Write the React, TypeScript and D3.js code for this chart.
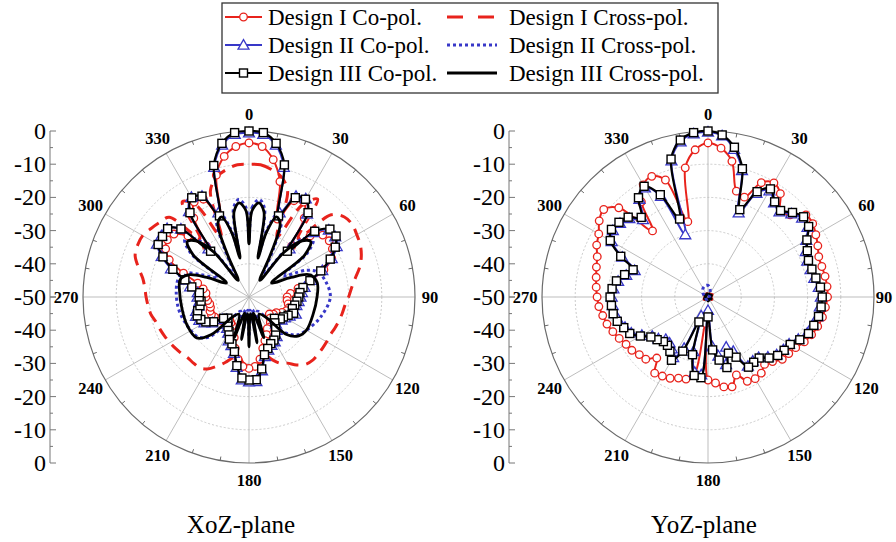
import React from "react";
import * as d3 from "d3";

// ---- angular grids (degrees, clockwise from broadside) ----
const ANGLES_FINE = d3.range(0, 360, 5);
const ANGLES_COARSE = d3.range(0, 360, 15);
// irregular sampling used for the petal-shaped XoZ cross-pol traces
const ANGLES_XOZ_X = [
  0, 2, 6, 10, 13, 15, 19, 23, 27, 33,
  38, 43, 48, 53, 58, 65, 70, 78, 90, 105,
  120, 128, 135, 140, 150, 160, 165, 170, 175, 180,
  185, 190, 195, 200, 210, 220, 225, 232, 245, 260,
  275, 284, 290, 295, 302, 307, 312, 317, 322, 327,
  333, 337, 341, 345, 347, 350, 354, 358,
];
const ANGLE_TICKS = [0, 30, 60, 90, 120, 150, 180, 210, 240, 270, 300, 330];
const DB_TICKS = [0, -10, -20, -30, -40, -50];
const DB_MINOR = [-5, -15, -25, -35, -45];

const LEGEND_CO = ["Design I Co-pol.", "Design II Co-pol.", "Design III Co-pol."];
const LEGEND_X = ["Design I Cross-pol.", "Design II Cross-pol.", "Design III Cross-pol."];
const PLANE_TITLES = ["XoZ-plane", "YoZ-plane"];

// ---- XoZ plane (dB) ----
const XOZ_CO_I = [
  -3.6, -4.5, -8, -14, -25, -18, -17, -21, -30, -24,
  -21, -20.5, -21, -22.5, -26, -31, -35, -37.5, -38.5, -38.5,
  -38, -37.5, -38, -39, -40.5, -41, -42, -41, -40, -39,
  -39, -37.5, -36, -34, -31, -29, -28.5, -29, -31, -34,
  -37, -39, -40, -40.5, -41, -40, -39, -38.5, -38, -37.5,
  -37.5, -38, -38, -37.5, -37, -37, -36, -34, -29, -23.5,
  -21, -20, -20.5, -24, -30, -21, -17, -17.5, -24, -12,
  -7, -4.5,
];
const XOZ_CO_II = [
  -0.5, -0.8, -3.5, -9.5, -23, -16.5, -15.8, -19.5, -31, -22.5,
  -18.6, -18.3, -19.5, -22.5, -26.5, -30.5, -33, -34, -34.5, -35,
  -35.5, -36.5, -35, -36.5, -37.5, -38, -39.5, -38.5, -37, -35.5,
  -34.5, -34, -33, -31.5, -27.5, -24.5, -24.5, -25, -28.5, -32.5,
  -34.5, -35.5, -37.5, -38.5, -39.5, -40.5, -39.5, -36.5, -34.5, -33.5,
  -33, -33.5, -34.5, -35, -34.5, -34.5, -32, -30, -25, -21,
  -18, -17.8, -17.8, -21, -31, -18.5, -15.3, -16.5, -23, -9.5,
  -3.5, -0.8,
];
const XOZ_CO_III = [
  0, -0.3, -3, -8.8, -24, -17, -16, -19, -32, -22,
  -18.2, -18, -20, -23, -27, -31, -33.5, -34.6, -35, -35.5,
  -36, -36.5, -35.7, -37, -38, -38.5, -40, -39, -37.5, -36,
  -35, -34.5, -33.5, -32, -28, -25, -25, -25.5, -29, -33,
  -35, -36, -38, -39, -40, -41, -40, -37, -35, -34,
  -33.4, -34, -35, -35.5, -35, -35, -32.5, -30, -25.6, -21.4,
  -18.4, -18.2, -18, -21, -32, -19, -15.5, -16.5, -24, -9,
  -3, -0.3,
];
const XOZ_X_I = [
  -10, -10, -11, -12.5, -16, -30, -18, -14, -27, -15,
  -12.5, -12, -12.5, -13, -14, -15.5, -17.5, -19, -20, -21,
  -21.5, -22, -22.5, -23, -23, -23, -23, -23, -23.5, -25,
  -27, -28, -30, -32, -30, -29, -29, -30, -32, -31,
  -29, -27, -25, -24, -24, -24, -23.5, -23, -22.5, -22,
  -21.5, -21, -20, -19.5, -19, -18.5, -17.5, -15.5, -13.5, -13,
  -13, -14, -15, -16, -27, -15, -18, -30, -16, -12.5,
  -11, -10,
];
const XOZ_X_II = [
  -32, -23, -20.5, -23, -36, -29, -23.5, -25, -34, -42,
  -32, -26, -24, -28, -38, -31, -28, -26.5, -25.5, -27.5,
  -30, -31.5, -35, -42, -45, -40, -46, -39, -46, -38,
  -46, -40, -46, -40, -45, -40, -33, -30.5, -29.5, -28.5,
  -28, -28, -29, -34, -39, -28, -24, -26, -32, -42,
  -34, -25, -23.5, -29, -36, -23, -20.5, -23,
];
const XOZ_X_III = [
  -34, -24, -21.5, -24, -38, -30, -24.5, -26, -36, -44,
  -33, -27, -25, -29, -42, -36, -30.5, -29, -29.5, -30,
  -30, -31, -34, -42, -44, -37, -45, -36, -45, -35,
  -45, -37, -45, -37, -44, -42, -34, -30, -29.5, -29.5,
  -29, -28.6, -30.5, -36, -42, -29, -25, -27, -33, -44,
  -36, -26, -24.5, -30, -38, -24, -21.5, -24,
];

// ---- YoZ plane (dB) ----
const YOZ_CO_I = [
  -3.6, -5, -8.5, -17, -18, -12, -10.3, -12, -16, -15,
  -11.5, -11.5, -12.5, -13.5, -14.5, -14.5, -14.2, -14, -14, -14.5,
  -15, -15.8, -16.8, -18, -19.5, -20.3, -20.8, -22.5, -23.5, -22,
  -21.6, -22, -25, -22, -22.5, -24, -25, -42, -26, -24.4,
  -24, -23, -22.5, -22, -26, -23.5, -23, -22, -21.5, -20.5,
  -19.5, -18.5, -17.8, -17, -16.6, -16.2, -15.8, -15.2, -14.5, -13,
  -12, -10, -9, -12, -24, -15, -11, -9.9, -12.5, -26.5,
  -10.5, -5.5,
];
const YOZ_CO_II = [
  -0.3, -1.2, -4.8, -10.5, -23, -15.5, -13, -15.3, -16.5, -14.5,
  -13, -13.4, -15.8, -17.5, -18.2, -18, -17.5, -16.5, -16, -16.2,
  -16.5, -17.4, -18.2, -20, -21.8, -22.3, -23, -24.5, -26.3, -26.5,
  -26, -32, -34, -29, -32, -35, -46, -26.5, -27, -33,
  -44, -33, -29, -31, -32, -32, -30.5, -29.5, -27, -24.5,
  -23.4, -22.2, -21.5, -21.2, -21, -21.4, -22.5, -24.5, -26.5, -21.5,
  -16.5, -15, -15.4, -16.5, -19.5, -14, -12, -16.5, -30, -7.5,
  -2.5, -0.6,
];
const YOZ_CO_III = [
  0, -1, -4.2, -10, -22, -15, -12.4, -15, -16, -14,
  -12.4, -13, -15.6, -17, -17.8, -17.6, -17, -16, -15.6, -15.8,
  -16.2, -17, -17.8, -19.5, -21.4, -22, -22.6, -24, -26, -26,
  -25.6, -30, -32, -28, -30.7, -34, -44, -25.6, -26, -32,
  -42, -32, -28, -30, -31, -31, -30, -29, -26.5, -24,
  -23, -21.7, -21, -20.8, -20.5, -21, -22, -24, -26, -21,
  -16, -14.5, -15, -16, -18.7, -13.5, -11.5, -16, -25, -7,
  -2, -0.3,
];
// cross-pol in YoZ stays near the noise floor
const YOZ_X_I = [
  -49, -48.8, -49.2, -49, -48.5, -49, -49.3, -49, -48.6, -49, -49.2, -48.8,
  -48.7, -49, -49.2, -49, -48.6, -49, -49.3, -49, -48.7, -49, -49.2, -48.9,
];
const YOZ_X_II = [
  -46.5, -47.5, -49, -49.5, -49.6, -49.6, -49.5, -49.4, -49.3, -49.4, -49.5, -49.5,
  -49.4, -49.3, -49.2, -49.2, -49.2, -49.2, -49, -48.8, -48.4, -47.8, -47, -46.5,
];
const YOZ_X_III = [
  -49.2, -49, -49.3, -49.1, -48.8, -49, -49.4, -49.2, -48.9, -49.1, -49.3, -49,
  -48.8, -49.2, -49.4, -49.1, -48.8, -49, -49.3, -49.2, -48.9, -49.1, -49.3, -49,
];

// ---- styling ----
const RED = "#e8231c";
const BLUE = "#3838c8";
const BLACK = "#000";
const SERIF = "'Liberation Serif', 'Times New Roman', Times, 'DejaVu Serif', serif";

type Marker = "circle" | "triangle" | "square" | null;
type Style = { color: string; width: number; dash?: string; marker: Marker };

const STYLE_CO_I: Style = { color: RED, width: 2, marker: "circle" };
const STYLE_CO_II: Style = { color: BLUE, width: 2, marker: "triangle" };
const STYLE_CO_III: Style = { color: BLACK, width: 2.2, marker: "square" };
const STYLE_X_I: Style = { color: RED, width: 3, dash: "12,8", marker: null };
const STYLE_X_II: Style = { color: BLUE, width: 3, dash: "3,3", marker: null };
const STYLE_X_III: Style = { color: BLACK, width: 2.8, marker: null };

type Series = { angles: number[]; values: number[]; style: Style };

const XOZ_SERIES: Series[] = [
  { angles: ANGLES_FINE, values: XOZ_X_I, style: STYLE_X_I },
  { angles: ANGLES_XOZ_X, values: XOZ_X_II, style: STYLE_X_II },
  { angles: ANGLES_FINE, values: XOZ_CO_I, style: STYLE_CO_I },
  { angles: ANGLES_FINE, values: XOZ_CO_II, style: STYLE_CO_II },
  { angles: ANGLES_FINE, values: XOZ_CO_III, style: STYLE_CO_III },
  { angles: ANGLES_XOZ_X, values: XOZ_X_III, style: STYLE_X_III },
];
const YOZ_SERIES: Series[] = [
  { angles: ANGLES_COARSE, values: YOZ_X_I, style: STYLE_X_I },
  { angles: ANGLES_COARSE, values: YOZ_X_III, style: STYLE_X_III },
  { angles: ANGLES_FINE, values: YOZ_CO_I, style: STYLE_CO_I },
  { angles: ANGLES_FINE, values: YOZ_CO_II, style: STYLE_CO_II },
  { angles: ANGLES_FINE, values: YOZ_CO_III, style: STYLE_CO_III },
  { angles: ANGLES_COARSE, values: YOZ_X_II, style: STYLE_X_II },
];

// ---- geometry ----
const W = 896;
const H = 542;
const R = 166;
const rScale = d3.scaleLinear().domain([-50, 0]).range([0, R]).clamp(true);
const toRad = (deg: number) => (deg * Math.PI) / 180;

const radialLine = d3
  .lineRadial<[number, number]>()
  .angle((d) => toRad(d[0]))
  .radius((d) => rScale(d[1]))
  .curve(d3.curveCatmullRomClosed.alpha(0.5));

const trianglePath = d3.symbol(d3.symbolTriangle, 52)() as string;

function MarkerShape({ kind, x, y, color }: { kind: Marker; x: number; y: number; color: string }) {
  if (kind === "circle")
    return <circle cx={x} cy={y} r={3.8} fill="#fff" stroke={color} strokeWidth={1.3} />;
  if (kind === "square")
    return <rect x={x - 4} y={y - 4} width={8} height={8} fill="#fff" stroke={color} strokeWidth={1.4} />;
  if (kind === "triangle")
    return <path d={trianglePath} transform={`translate(${x},${y + 1})`} fill="#fff" stroke={color} strokeWidth={1.3} />;
  return null;
}

type PlotProps = {
  cx: number;
  cy: number;
  axisX: number;
  title: string;
  titleX: number;
  series: Series[];
  rightLabelR: number;
};

function PolarPlot({ cx, cy, axisX, title, titleX, series, rightLabelR }: PlotProps) {
  const rings = [-40, -30, -20, -10];
  const minorTicks = d3.range(0, 360, 10).filter((a) => a % 30 !== 0);
  const labelR = (a: number) => (a === 90 ? rightLabelR : 183);
  const axisText = { textAnchor: "end" as const, dominantBaseline: "central" as const, fontSize: 24, fontFamily: SERIF };
  return (
    <g>
      {/* radial dB axis on the left */}
      <g>
        <line x1={axisX} x2={axisX} y1={cy - R} y2={cy + R} stroke="#777" strokeWidth={1} />
        {DB_TICKS.map((v) => (
          <g key={`M${v}`}>
            <line x1={axisX} x2={axisX + 6} y1={cy - rScale(v)} y2={cy - rScale(v)} stroke="#777" />
            <line x1={axisX} x2={axisX + 6} y1={cy + rScale(v)} y2={cy + rScale(v)} stroke="#777" />
            <text x={axisX - 4} y={cy - rScale(v)} {...axisText}>
              {v}
            </text>
            {v !== -50 && (
              <text x={axisX - 4} y={cy + rScale(v)} {...axisText}>
                {v}
              </text>
            )}
          </g>
        ))}
        {DB_MINOR.map((v) => (
          <g key={`m${v}`}>
            <line x1={axisX} x2={axisX + 3} y1={cy - rScale(v)} y2={cy - rScale(v)} stroke="#777" />
            <line x1={axisX} x2={axisX + 3} y1={cy + rScale(v)} y2={cy + rScale(v)} stroke="#777" />
          </g>
        ))}
      </g>

      <g transform={`translate(${cx},${cy})`}>
        {/* grid */}
        {rings.map((v) => (
          <circle key={v} r={rScale(v)} fill="none" stroke="#c4c4c4" strokeWidth={0.9} strokeDasharray="2,2" />
        ))}
        {ANGLE_TICKS.map((a) => (
          <line
            key={a}
            x1={0}
            y1={0}
            x2={R * Math.sin(toRad(a))}
            y2={-R * Math.cos(toRad(a))}
            stroke="#b5b5b5"
            strokeWidth={0.9}
          />
        ))}
        <circle r={R} fill="none" stroke="#6a6a6a" strokeWidth={1.2} />
        {minorTicks.map((a) => (
          <line
            key={`t${a}`}
            x1={R * Math.sin(toRad(a))}
            y1={-R * Math.cos(toRad(a))}
            x2={(R - 4) * Math.sin(toRad(a))}
            y2={-(R - 4) * Math.cos(toRad(a))}
            stroke="#6a6a6a"
            strokeWidth={1}
          />
        ))}
        {ANGLE_TICKS.map((a) => (
          <text
            key={`l${a}`}
            x={labelR(a) * Math.sin(toRad(a))}
            y={-labelR(a) * Math.cos(toRad(a))}
            textAnchor="middle"
            dominantBaseline="central"
            fontSize={16.5}
            fontWeight="bold"
            fontFamily={SERIF}
          >
            {a}
          </text>
        ))}

        {/* patterns */}
        {series.map((s, i) => {
          const pts: [number, number][] = s.angles.map((a, j) => [a, s.values[j]]);
          return (
            <g key={i}>
              <path
                d={radialLine(pts) as string}
                fill="none"
                stroke={s.style.color}
                strokeWidth={s.style.width}
                strokeDasharray={s.style.dash}
                strokeLinejoin="round"
              />
              {s.style.marker &&
                pts.map(([a, v], j) => {
                  const r = rScale(v);
                  return (
                    <MarkerShape
                      key={j}
                      kind={s.style.marker}
                      x={r * Math.sin(toRad(a))}
                      y={-r * Math.cos(toRad(a))}
                      color={s.style.color}
                    />
                  );
                })}
            </g>
          );
        })}
      </g>

      <text x={titleX} y={533} textAnchor="middle" fontSize={25} fontFamily={SERIF}>
        {title}
      </text>
    </g>
  );
}

function Legend() {
  const rows = [17, 45, 73];
  const coStyles = [STYLE_CO_I, STYLE_CO_II, STYLE_CO_III];
  const xStyles = [STYLE_X_I, STYLE_X_II, STYLE_X_III];
  return (
    <g>
      <rect x={222} y={3} width={496} height={90} fill="#fff" stroke="#333" strokeWidth={1.3} />
      {rows.map((y, i) => (
        <g key={i}>
          <line x1={225} x2={262} y1={y} y2={y} stroke={coStyles[i].color} strokeWidth={2} />
          <MarkerShape kind={coStyles[i].marker} x={243.5} y={y} color={coStyles[i].color} />
          <text x={268} y={y} dominantBaseline="central" fontSize={23} fontFamily={SERIF}>
            {LEGEND_CO[i]}
          </text>
          <line
            x1={447}
            x2={497}
            y1={y}
            y2={y}
            stroke={xStyles[i].color}
            strokeWidth={xStyles[i].width}
            strokeDasharray={i === 0 ? "16,15" : xStyles[i].dash}
          />
          <text x={509} y={y} dominantBaseline="central" fontSize={23} fontFamily={SERIF}>
            {LEGEND_X[i]}
          </text>
        </g>
      ))}
    </g>
  );
}

export default function App() {
  return (
    <svg
      width={W}
      height={H}
      viewBox={`0 0 ${W} ${H}`}
      style={{ position: "absolute", left: 0, top: 0, background: "#fff" }}
    >
      <rect width={W} height={H} fill="#fff" />
      <PolarPlot cx={249} cy={297} axisX={50} title={PLANE_TITLES[0]} titleX={241} series={XOZ_SERIES} rightLabelR={181} />
      <PolarPlot cx={708} cy={297} axisX={509} title={PLANE_TITLES[1]} titleX={704} series={YOZ_SERIES} rightLabelR={176} />
      <Legend />
    </svg>
  );
}
